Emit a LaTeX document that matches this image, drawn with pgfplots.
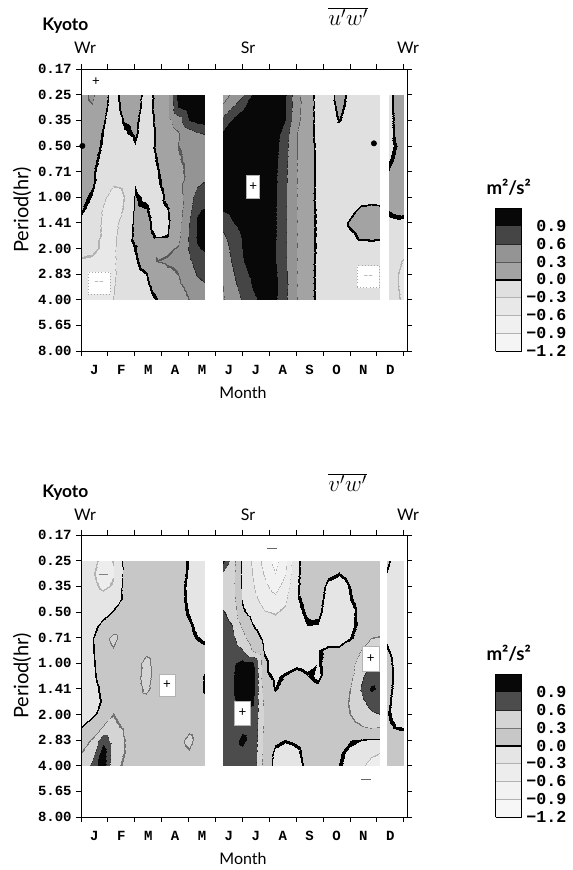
\documentclass[border=0pt]{standalone}
\usepackage{fontspec}
\setmainfont{Lato}
\newfontfamily\monob{Liberation Mono}
\usepackage{pgfplots}
\usepackage{pgfplotstable}
\pgfplotsset{compat=1.18}

% ---------------- u'w' panel ----------------
\pgfplotstableread[row sep=\\]{
x y v\\
0 1 0.20\\ 0.4 1 0.35\\ 0.8 1 0.10\\ 1.2 1 -0.10\\ 1.6 1 0.10\\ 2.0 1 0.15\\ 2.4 1 -0.10\\ 2.8 1 0.05\\ 3.2 1 0.20\\ 3.6 1 1.00\\ 4.0 1 1.05\\ 4.3 1 1.05\\ 4.6 1 1.00\\
0 1.5 0.20\\ 0.4 1.5 0.28\\ 0.8 1.5 0.08\\ 1.2 1.5 -0.12\\ 1.6 1.5 0.08\\ 2.0 1.5 0.10\\ 2.4 1.5 -0.10\\ 2.8 1.5 0.06\\ 3.2 1.5 0.20\\ 3.6 1.5 0.90\\ 4.0 1.5 1.05\\ 4.3 1.5 1.05\\ 4.6 1.5 1.05\\
0 2 0.18\\ 0.4 2 0.18\\ 0.8 2 0.03\\ 1.2 2 -0.15\\ 1.6 2 0.02\\ 2.0 2 0.05\\ 2.4 2 -0.12\\ 2.8 2 0.04\\ 3.2 2 0.20\\ 3.6 2 0.45\\ 4.0 2 0.92\\ 4.3 2 1.00\\ 4.6 2 1.05\\
0 2.5 0.16\\ 0.4 2.5 0.12\\ 0.8 2.5 -0.01\\ 1.2 2.5 -0.16\\ 1.6 2.5 -0.03\\ 2.0 2.5 0.03\\ 2.4 2.5 -0.12\\ 2.8 2.5 0.02\\ 3.2 2.5 0.15\\ 3.6 2.5 0.28\\ 4.0 2.5 0.45\\ 4.3 2.5 0.58\\ 4.6 2.5 0.62\\
0 3 0.20\\ 0.4 3 0.10\\ 0.8 3 -0.03\\ 1.2 3 -0.16\\ 1.6 3 -0.12\\ 2.0 3 -0.02\\ 2.4 3 -0.12\\ 2.8 3 0.03\\ 3.2 3 0.14\\ 3.6 3 0.30\\ 4.0 3 0.35\\ 4.3 3 0.38\\ 4.6 3 0.40\\
0 3.5 0.12\\ 0.4 3.5 0.06\\ 0.8 3.5 -0.06\\ 1.2 3.5 -0.16\\ 1.6 3.5 -0.18\\ 2.0 3.5 -0.15\\ 2.4 3.5 -0.15\\ 2.8 3.5 0.00\\ 3.2 3.5 0.12\\ 3.6 3.5 0.28\\ 4.0 3.5 0.35\\ 4.3 3.5 0.35\\ 4.6 3.5 0.35\\
0 4 0.10\\ 0.4 4 0.03\\ 0.8 4 -0.10\\ 1.2 4 -0.20\\ 1.6 4 -0.20\\ 2.0 4 -0.12\\ 2.4 4 -0.15\\ 2.8 4 -0.03\\ 3.2 4 0.10\\ 3.6 4 0.25\\ 4.0 4 0.35\\ 4.3 4 0.40\\ 4.6 4 0.45\\
0 4.5 0.08\\ 0.4 4.5 0.03\\ 0.8 4.5 -0.14\\ 1.2 4.5 -0.28\\ 1.6 4.5 -0.26\\ 2.0 4.5 -0.02\\ 2.4 4.5 -0.12\\ 2.8 4.5 -0.05\\ 3.2 4.5 0.08\\ 3.6 4.5 0.22\\ 4.0 4.5 0.45\\ 4.3 4.5 0.55\\ 4.6 4.5 0.65\\
0 5 0.05\\ 0.4 5 -0.02\\ 0.8 5 -0.25\\ 1.2 5 -0.40\\ 1.6 5 -0.30\\ 2.0 5 0.02\\ 2.4 5 -0.04\\ 2.8 5 -0.10\\ 3.2 5 0.05\\ 3.6 5 0.20\\ 4.0 5 0.45\\ 4.3 5 0.75\\ 4.6 5 0.80\\
0 5.5 0.02\\ 0.4 5.5 -0.08\\ 0.8 5.5 -0.32\\ 1.2 5.5 -0.40\\ 1.6 5.5 -0.28\\ 2.0 5.5 0.04\\ 2.4 5.5 0.02\\ 2.8 5.5 -0.10\\ 3.2 5.5 -0.02\\ 3.6 5.5 0.18\\ 4.0 5.5 0.50\\ 4.3 5.5 0.88\\ 4.6 5.5 0.92\\
0 6 -0.05\\ 0.4 6 -0.15\\ 0.8 6 -0.33\\ 1.2 6 -0.38\\ 1.6 6 -0.20\\ 2.0 6 0.05\\ 2.4 6 0.06\\ 2.8 6 -0.08\\ 3.2 6 -0.04\\ 3.6 6 0.20\\ 4.0 6 0.60\\ 4.3 6 0.92\\ 4.6 6 0.98\\
0 6.5 -0.12\\ 0.4 6.5 -0.20\\ 0.8 6.5 -0.33\\ 1.2 6.5 -0.36\\ 1.6 6.5 -0.15\\ 2.0 6.5 0.05\\ 2.4 6.5 0.08\\ 2.8 6.5 -0.02\\ 3.2 6.5 -0.01\\ 3.6 6.5 0.22\\ 4.0 6.5 0.62\\ 4.3 6.5 0.93\\ 4.6 6.5 1.00\\
0 7 -0.22\\ 0.4 7 -0.26\\ 0.8 7 -0.33\\ 1.2 7 -0.35\\ 1.6 7 -0.12\\ 2.0 7 0.00\\ 2.4 7 0.15\\ 2.8 7 0.28\\ 3.2 7 0.25\\ 3.6 7 0.32\\ 4.0 7 0.62\\ 4.3 7 0.88\\ 4.6 7 0.95\\
0 7.5 -0.32\\ 0.4 7.5 -0.33\\ 0.8 7.5 -0.36\\ 1.2 7.5 -0.35\\ 1.6 7.5 -0.12\\ 2.0 7.5 -0.03\\ 2.4 7.5 0.10\\ 2.8 7.5 0.30\\ 3.2 7.5 0.33\\ 3.6 7.5 0.35\\ 4.0 7.5 0.55\\ 4.3 7.5 0.72\\ 4.6 7.5 0.80\\
0 8 -0.36\\ 0.4 8 -0.40\\ 0.8 8 -0.40\\ 1.2 8 -0.35\\ 1.6 8 -0.15\\ 2.0 8 -0.08\\ 2.4 8 -0.01\\ 2.8 8 0.15\\ 3.2 8 0.25\\ 3.6 8 0.30\\ 4.0 8 0.45\\ 4.3 8 0.62\\ 4.6 8 0.70\\
0 8.5 -0.36\\ 0.4 8.5 -0.42\\ 0.8 8.5 -0.42\\ 1.2 8.5 -0.32\\ 1.6 8.5 -0.15\\ 2.0 8.5 -0.10\\ 2.4 8.5 -0.05\\ 2.8 8.5 0.06\\ 3.2 8.5 0.20\\ 3.6 8.5 0.25\\ 4.0 8.5 0.35\\ 4.3 8.5 0.48\\ 4.6 8.5 0.55\\
0 9 -0.34\\ 0.4 9 -0.40\\ 0.8 9 -0.40\\ 1.2 9 -0.30\\ 1.6 9 -0.15\\ 2.0 9 -0.12\\ 2.4 9 -0.08\\ 2.8 9 -0.01\\ 3.2 9 0.15\\ 3.6 9 0.20\\ 4.0 9 0.30\\ 4.3 9 0.35\\ 4.6 9 0.40\\
}\TL

\pgfplotstableread[row sep=\\]{
x y v\\
5.27 1 0.20\\ 5.6 1 0.35\\ 6.0 1 0.55\\ 6.4 1 0.95\\ 6.8 1 1.10\\ 7.2 1 1.10\\ 7.6 1 0.95\\ 8.0 1 0.40\\ 8.4 1 0.15\\ 8.8 1 -0.10\\ 9.2 1 -0.12\\ 9.6 1 0.10\\ 10.0 1 -0.06\\ 10.4 1 -0.15\\ 10.8 1 -0.15\\ 11.1 1 -0.15\\
5.27 1.5 0.35\\ 5.6 1.5 0.60\\ 6.0 1.5 0.85\\ 6.4 1.5 1.05\\ 6.8 1.5 1.10\\ 7.2 1.5 1.10\\ 7.6 1.5 0.93\\ 8.0 1.5 0.40\\ 8.4 1.5 0.15\\ 8.8 1.5 -0.10\\ 9.2 1.5 -0.12\\ 9.6 1.5 0.06\\ 10.0 1.5 -0.08\\ 10.4 1.5 -0.15\\ 10.8 1.5 -0.15\\ 11.1 1.5 -0.15\\
5.27 2 0.70\\ 5.6 2 0.92\\ 6.0 2 1.05\\ 6.4 2 1.10\\ 6.8 2 1.10\\ 7.2 2 1.10\\ 7.6 2 0.90\\ 8.0 2 0.38\\ 8.4 2 0.14\\ 8.8 2 -0.09\\ 9.2 2 -0.14\\ 9.6 2 0.01\\ 10.0 2 -0.12\\ 10.4 2 -0.15\\ 10.8 2 -0.15\\ 11.1 2 -0.15\\
5.27 2.5 0.95\\ 5.6 2.5 1.05\\ 6.0 2.5 1.10\\ 6.4 2.5 1.10\\ 6.8 2.5 1.10\\ 7.2 2.5 1.05\\ 7.6 2.5 0.75\\ 8.0 2.5 0.32\\ 8.4 2.5 0.12\\ 8.8 2.5 -0.08\\ 9.2 2.5 -0.15\\ 9.6 2.5 -0.15\\ 10.0 2.5 -0.15\\ 10.4 2.5 -0.15\\ 10.8 2.5 -0.15\\ 11.1 2.5 -0.15\\
5.27 3 1.00\\ 5.6 3 1.10\\ 6.0 3 1.10\\ 6.4 3 1.10\\ 6.8 3 1.10\\ 7.2 3 1.00\\ 7.6 3 0.70\\ 8.0 3 0.32\\ 8.4 3 0.12\\ 8.8 3 -0.06\\ 9.2 3 -0.15\\ 9.6 3 -0.15\\ 10.0 3 -0.15\\ 10.4 3 -0.15\\ 10.8 3 -0.12\\ 11.1 3 -0.15\\
5.27 3.5 1.00\\ 5.6 3.5 1.10\\ 6.0 3.5 1.10\\ 6.4 3.5 1.10\\ 6.8 3.5 1.10\\ 7.2 3.5 0.98\\ 7.6 3.5 0.68\\ 8.0 3.5 0.31\\ 8.4 3.5 0.12\\ 8.8 3.5 -0.05\\ 9.2 3.5 -0.15\\ 9.6 3.5 -0.15\\ 10.0 3.5 -0.15\\ 10.4 3.5 -0.15\\ 10.8 3.5 -0.15\\ 11.1 3.5 -0.15\\
5.27 4 1.00\\ 5.6 4 1.10\\ 6.0 4 1.10\\ 6.4 4 1.10\\ 6.8 4 1.10\\ 7.2 4 0.96\\ 7.6 4 0.66\\ 8.0 4 0.31\\ 8.4 4 0.11\\ 8.8 4 -0.05\\ 9.2 4 -0.15\\ 9.6 4 -0.15\\ 10.0 4 -0.15\\ 10.4 4 -0.15\\ 10.8 4 -0.15\\ 11.1 4 -0.15\\
5.27 4.5 1.00\\ 5.6 4.5 1.10\\ 6.0 4.5 1.10\\ 6.4 4.5 1.10\\ 6.8 4.5 1.05\\ 7.2 4.5 0.95\\ 7.6 4.5 0.65\\ 8.0 4.5 0.31\\ 8.4 4.5 0.11\\ 8.8 4.5 -0.05\\ 9.2 4.5 -0.15\\ 9.6 4.5 -0.15\\ 10.0 4.5 -0.15\\ 10.4 4.5 -0.15\\ 10.8 4.5 -0.15\\ 11.1 4.5 -0.15\\
5.27 5 0.98\\ 5.6 5 1.05\\ 6.0 5 1.10\\ 6.4 5 1.10\\ 6.8 5 1.05\\ 7.2 5 0.94\\ 7.6 5 0.64\\ 8.0 5 0.31\\ 8.4 5 0.10\\ 8.8 5 -0.05\\ 9.2 5 -0.15\\ 9.6 5 -0.15\\ 10.0 5 -0.14\\ 10.4 5 -0.12\\ 10.8 5 -0.12\\ 11.1 5 -0.14\\
5.27 5.5 0.92\\ 5.6 5.5 1.00\\ 6.0 5.5 1.10\\ 6.4 5.5 1.10\\ 6.8 5.5 1.05\\ 7.2 5.5 0.93\\ 7.6 5.5 0.64\\ 8.0 5.5 0.31\\ 8.4 5.5 0.10\\ 8.8 5.5 -0.04\\ 9.2 5.5 -0.15\\ 9.6 5.5 -0.15\\ 10.0 5.5 -0.08\\ 10.4 5.5 0.06\\ 10.8 5.5 0.10\\ 11.1 5.5 0.08\\
5.27 6 0.70\\ 5.6 6 0.88\\ 6.0 6 1.00\\ 6.4 6 1.10\\ 6.8 6 1.05\\ 7.2 6 0.93\\ 7.6 6 0.64\\ 8.0 6 0.31\\ 8.4 6 0.10\\ 8.8 6 -0.04\\ 9.2 6 -0.15\\ 9.6 6 -0.12\\ 10.0 6 0.04\\ 10.4 6 0.12\\ 10.8 6 0.12\\ 11.1 6 0.10\\
5.27 6.5 0.55\\ 5.6 6.5 0.75\\ 6.0 6.5 0.92\\ 6.4 6.5 1.05\\ 6.8 6.5 1.05\\ 7.2 6.5 0.93\\ 7.6 6.5 0.64\\ 8.0 6.5 0.31\\ 8.4 6.5 0.10\\ 8.8 6.5 -0.04\\ 9.2 6.5 -0.15\\ 9.6 6.5 -0.15\\ 10.0 6.5 -0.06\\ 10.4 6.5 0.05\\ 10.8 6.5 0.06\\ 11.1 6.5 0.04\\
5.27 7 0.45\\ 5.6 7 0.68\\ 6.0 7 0.90\\ 6.4 7 1.05\\ 6.8 7 1.05\\ 7.2 7 0.92\\ 7.6 7 0.64\\ 8.0 7 0.31\\ 8.4 7 0.10\\ 8.8 7 -0.04\\ 9.2 7 -0.15\\ 9.6 7 -0.15\\ 10.0 7 -0.15\\ 10.4 7 -0.12\\ 10.8 7 -0.10\\ 11.1 7 -0.10\\
5.27 7.5 0.40\\ 5.6 7.5 0.62\\ 6.0 7.5 0.88\\ 6.4 7.5 1.05\\ 6.8 7.5 1.05\\ 7.2 7.5 0.92\\ 7.6 7.5 0.64\\ 8.0 7.5 0.31\\ 8.4 7.5 0.10\\ 8.8 7.5 -0.05\\ 9.2 7.5 -0.15\\ 9.6 7.5 -0.15\\ 10.0 7.5 -0.15\\ 10.4 7.5 -0.15\\ 10.8 7.5 -0.18\\ 11.1 7.5 -0.15\\
5.27 8 0.35\\ 5.6 8 0.55\\ 6.0 8 0.80\\ 6.4 8 0.98\\ 6.8 8 1.05\\ 7.2 8 0.95\\ 7.6 8 0.66\\ 8.0 8 0.31\\ 8.4 8 0.10\\ 8.8 8 -0.05\\ 9.2 8 -0.15\\ 9.6 8 -0.15\\ 10.0 8 -0.15\\ 10.4 8 -0.22\\ 10.8 8 -0.30\\ 11.1 8 -0.22\\
5.27 8.5 0.30\\ 5.6 8.5 0.48\\ 6.0 8.5 0.70\\ 6.4 8.5 0.92\\ 6.8 8.5 1.05\\ 7.2 8.5 0.98\\ 7.6 8.5 0.68\\ 8.0 8.5 0.31\\ 8.4 8.5 0.10\\ 8.8 8.5 -0.05\\ 9.2 8.5 -0.15\\ 9.6 8.5 -0.15\\ 10.0 8.5 -0.15\\ 10.4 8.5 -0.22\\ 10.8 8.5 -0.30\\ 11.1 8.5 -0.22\\
5.27 9 0.28\\ 5.6 9 0.42\\ 6.0 9 0.62\\ 6.4 9 0.85\\ 6.8 9 1.00\\ 7.2 9 0.95\\ 7.6 9 0.66\\ 8.0 9 0.31\\ 8.4 9 0.10\\ 8.8 9 -0.05\\ 9.2 9 -0.15\\ 9.6 9 -0.15\\ 10.0 9 -0.15\\ 10.4 9 -0.15\\ 10.8 9 -0.18\\ 11.1 9 -0.15\\
}\TM

\pgfplotstableread[row sep=\\]{
x y v\\
11.45 1 -0.05\\ 11.72 1 0.05\\ 12.0 1 0.12\\
11.45 1.5 -0.05\\ 11.72 1.5 0.05\\ 12.0 1.5 0.12\\
11.45 2 -0.06\\ 11.72 2 0.04\\ 12.0 2 0.12\\
11.45 2.5 -0.06\\ 11.72 2.5 0.03\\ 12.0 2.5 0.10\\
11.45 3 -0.05\\ 11.72 3 0.01\\ 12.0 3 0.05\\
11.45 3.5 -0.02\\ 11.72 3.5 0.03\\ 12.0 3.5 0.08\\
11.45 4 0.02\\ 11.72 4 0.06\\ 12.0 4 0.10\\
11.45 4.5 0.05\\ 11.72 4.5 0.08\\ 12.0 4.5 0.10\\
11.45 5 0.05\\ 11.72 5 0.08\\ 12.0 5 0.10\\
11.45 5.5 0.02\\ 11.72 5.5 0.04\\ 12.0 5.5 0.05\\
11.45 6 -0.05\\ 11.72 6 -0.04\\ 12.0 6 -0.05\\
11.45 6.5 -0.10\\ 11.72 6.5 -0.10\\ 12.0 6.5 -0.12\\
11.45 7 -0.15\\ 11.72 7 -0.18\\ 12.0 7 -0.22\\
11.45 7.5 -0.18\\ 11.72 7.5 -0.25\\ 12.0 7.5 -0.32\\
11.45 8 -0.18\\ 11.72 8 -0.28\\ 12.0 8 -0.36\\
11.45 8.5 -0.18\\ 11.72 8.5 -0.28\\ 12.0 8.5 -0.36\\
11.45 9 -0.18\\ 11.72 9 -0.26\\ 12.0 9 -0.34\\
}\TR

% ---------------- v'w' panel ----------------
\pgfplotstableread[row sep=\\]{
x y v\\
0 1 -0.15\\ 0.4 1 -0.25\\ 0.8 1 -0.35\\ 1.2 1 -0.30\\ 1.6 1 0.05\\ 2.0 1 0.15\\ 2.4 1 0.20\\ 2.8 1 0.18\\ 3.2 1 0.15\\ 3.6 1 0.10\\ 4.0 1 -0.02\\ 4.3 1 -0.12\\ 4.6 1 -0.12\\
0 1.5 -0.15\\ 0.4 1.5 -0.28\\ 0.8 1.5 -0.38\\ 1.2 1.5 -0.32\\ 1.6 1.5 0.05\\ 2.0 1.5 0.15\\ 2.4 1.5 0.20\\ 2.8 1.5 0.18\\ 3.2 1.5 0.15\\ 3.6 1.5 0.10\\ 4.0 1.5 -0.03\\ 4.3 1.5 -0.12\\ 4.6 1.5 -0.12\\
0 2 -0.15\\ 0.4 2 -0.25\\ 0.8 2 -0.34\\ 1.2 2 -0.28\\ 1.6 2 0.06\\ 2.0 2 0.15\\ 2.4 2 0.18\\ 2.8 2 0.18\\ 3.2 2 0.15\\ 3.6 2 0.08\\ 4.0 2 -0.05\\ 4.3 2 -0.12\\ 4.6 2 -0.12\\
0 2.5 -0.15\\ 0.4 2.5 -0.18\\ 0.8 2.5 -0.22\\ 1.2 2.5 -0.15\\ 1.6 2.5 0.04\\ 2.0 2.5 0.15\\ 2.4 2.5 0.18\\ 2.8 2.5 0.18\\ 3.2 2.5 0.15\\ 3.6 2.5 0.08\\ 4.0 2.5 -0.04\\ 4.3 2.5 -0.12\\ 4.6 2.5 -0.12\\
0 3 -0.18\\ 0.4 3 -0.15\\ 0.8 3 -0.12\\ 1.2 3 0.02\\ 1.6 3 0.10\\ 2.0 3 0.15\\ 2.4 3 0.18\\ 2.8 3 0.18\\ 3.2 3 0.15\\ 3.6 3 0.08\\ 4.0 3 -0.02\\ 4.3 3 -0.10\\ 4.6 3 -0.12\\
0 3.5 -0.28\\ 0.4 3.5 -0.10\\ 0.8 3.5 0.08\\ 1.2 3.5 0.15\\ 1.6 3.5 0.18\\ 2.0 3.5 0.18\\ 2.4 3.5 0.18\\ 2.8 3.5 0.18\\ 3.2 3.5 0.15\\ 3.6 3.5 0.10\\ 4.0 3.5 0.03\\ 4.3 3.5 -0.05\\ 4.6 3.5 -0.10\\
0 4 -0.30\\ 0.4 4 -0.02\\ 0.8 4 0.20\\ 1.2 4 0.36\\ 1.6 4 0.20\\ 2.0 4 0.18\\ 2.4 4 0.18\\ 2.8 4 0.18\\ 3.2 4 0.16\\ 3.6 4 0.12\\ 4.0 4 0.06\\ 4.3 4 0.00\\ 4.6 4 -0.04\\
0 4.5 -0.30\\ 0.4 4.5 -0.03\\ 0.8 4.5 0.18\\ 1.2 4.5 0.28\\ 1.6 4.5 0.20\\ 2.0 4.5 0.22\\ 2.4 4.5 0.25\\ 2.8 4.5 0.20\\ 3.2 4.5 0.16\\ 3.6 4.5 0.12\\ 4.0 4.5 0.10\\ 4.3 4.5 0.08\\ 4.6 4.5 0.05\\
0 5 -0.30\\ 0.4 5 -0.05\\ 0.8 5 0.15\\ 1.2 5 0.20\\ 1.6 5 0.18\\ 2.0 5 0.22\\ 2.4 5 0.36\\ 2.8 5 0.22\\ 3.2 5 0.18\\ 3.6 5 0.14\\ 4.0 5 0.12\\ 4.3 5 0.10\\ 4.6 5 0.08\\
0 5.5 -0.30\\ 0.4 5.5 -0.06\\ 0.8 5.5 0.12\\ 1.2 5.5 0.18\\ 1.6 5.5 0.18\\ 2.0 5.5 0.22\\ 2.4 5.5 0.38\\ 2.8 5.5 0.22\\ 3.2 5.5 0.18\\ 3.6 5.5 0.14\\ 4.0 5.5 0.12\\ 4.3 5.5 0.10\\ 4.6 5.5 -0.02\\
0 6 -0.30\\ 0.4 6 -0.10\\ 0.8 6 0.06\\ 1.2 6 0.18\\ 1.6 6 0.18\\ 2.0 6 0.22\\ 2.4 6 0.34\\ 2.8 6 0.22\\ 3.2 6 0.18\\ 3.6 6 0.14\\ 4.0 6 0.12\\ 4.3 6 0.10\\ 4.6 6 -0.02\\
0 6.5 -0.30\\ 0.4 6.5 -0.12\\ 0.8 6.5 0.04\\ 1.2 6.5 0.22\\ 1.6 6.5 0.20\\ 2.0 6.5 0.20\\ 2.4 6.5 0.22\\ 2.8 6.5 0.20\\ 3.2 6.5 0.18\\ 3.6 6.5 0.14\\ 4.0 6.5 0.12\\ 4.3 6.5 0.10\\ 4.6 6.5 0.06\\
0 7 -0.18\\ 0.4 7 -0.06\\ 0.8 7 0.12\\ 1.2 7 0.30\\ 1.6 7 0.24\\ 2.0 7 0.20\\ 2.4 7 0.20\\ 2.8 7 0.20\\ 3.2 7 0.18\\ 3.6 7 0.16\\ 4.0 7 0.15\\ 4.3 7 0.14\\ 4.6 7 0.12\\
0 7.5 0.00\\ 0.4 7.5 0.15\\ 0.8 7.5 0.32\\ 1.2 7.5 0.34\\ 1.6 7.5 0.28\\ 2.0 7.5 0.22\\ 2.4 7.5 0.20\\ 2.8 7.5 0.20\\ 3.2 7.5 0.20\\ 3.6 7.5 0.22\\ 4.0 7.5 0.25\\ 4.3 7.5 0.22\\ 4.6 7.5 0.18\\
0 8 0.20\\ 0.4 8 0.32\\ 0.8 8 0.80\\ 1.2 8 0.45\\ 1.6 8 0.30\\ 2.0 8 0.22\\ 2.4 8 0.20\\ 2.8 8 0.20\\ 3.2 8 0.20\\ 3.6 8 0.24\\ 4.0 8 0.35\\ 4.3 8 0.25\\ 4.6 8 0.18\\
0 8.5 0.30\\ 0.4 8.5 0.45\\ 0.8 8.5 1.10\\ 1.2 8.5 0.42\\ 1.6 8.5 0.30\\ 2.0 8.5 0.22\\ 2.4 8.5 0.20\\ 2.8 8.5 0.20\\ 3.2 8.5 0.20\\ 3.6 8.5 0.22\\ 4.0 8.5 0.28\\ 4.3 8.5 0.22\\ 4.6 8.5 0.18\\
0 9 0.32\\ 0.4 9 0.70\\ 0.8 9 1.10\\ 1.2 9 0.35\\ 1.6 9 0.28\\ 2.0 9 0.22\\ 2.4 9 0.20\\ 2.8 9 0.20\\ 3.2 9 0.20\\ 3.6 9 0.20\\ 4.0 9 0.20\\ 4.3 9 0.18\\ 4.6 9 0.16\\
}\BL

\pgfplotstableread[row sep=\\]{
x y v\\
5.27 1 1.00\\ 5.6 1 0.45\\ 6.0 1 -0.05\\ 6.4 1 -0.35\\ 6.8 1 -0.70\\ 7.2 1 -1.00\\ 7.6 1 -0.70\\ 8.0 1 -0.05\\ 8.4 1 0.12\\ 8.8 1 0.15\\ 9.2 1 0.10\\ 9.6 1 0.06\\ 10.0 1 0.08\\ 10.4 1 0.12\\ 10.8 1 0.15\\ 11.1 1 0.15\\
5.27 1.5 0.55\\ 5.6 1.5 0.42\\ 6.0 1.5 -0.05\\ 6.4 1.5 -0.32\\ 6.8 1.5 -0.62\\ 7.2 1.5 -0.90\\ 7.6 1.5 -0.62\\ 8.0 1.5 -0.05\\ 8.4 1.5 0.12\\ 8.8 1.5 0.15\\ 9.2 1.5 0.05\\ 9.6 1.5 0.01\\ 10.0 1.5 0.08\\ 10.4 1.5 0.12\\ 10.8 1.5 0.15\\ 11.1 1.5 0.15\\
5.27 2 0.40\\ 5.6 2 0.40\\ 6.0 2 -0.03\\ 6.4 2 -0.28\\ 6.8 2 -0.52\\ 7.2 2 -0.72\\ 7.6 2 -0.48\\ 8.0 2 -0.04\\ 8.4 2 0.12\\ 8.8 2 0.12\\ 9.2 2 -0.05\\ 9.6 2 -0.10\\ 10.0 2 0.01\\ 10.4 2 0.10\\ 10.8 2 0.15\\ 11.1 2 0.15\\
5.27 2.5 0.50\\ 5.6 2.5 0.42\\ 6.0 2.5 -0.02\\ 6.4 2.5 -0.22\\ 6.8 2.5 -0.40\\ 7.2 2.5 -0.52\\ 7.6 2.5 -0.35\\ 8.0 2.5 -0.03\\ 8.4 2.5 0.06\\ 8.8 2.5 0.08\\ 9.2 2.5 -0.08\\ 9.6 2.5 -0.15\\ 10.0 2.5 -0.01\\ 10.4 2.5 0.08\\ 10.8 2.5 0.15\\ 11.1 2.5 0.15\\
5.27 3 0.62\\ 5.6 3 0.50\\ 6.0 3 0.05\\ 6.4 3 -0.12\\ 6.8 3 -0.28\\ 7.2 3 -0.32\\ 7.6 3 -0.25\\ 8.0 3 -0.06\\ 8.4 3 0.03\\ 8.8 3 0.05\\ 9.2 3 -0.10\\ 9.6 3 -0.15\\ 10.0 3 -0.06\\ 10.4 3 0.06\\ 10.8 3 0.15\\ 11.1 3 0.15\\
5.27 3.5 0.70\\ 5.6 3.5 0.60\\ 6.0 3.5 0.25\\ 6.4 3.5 0.00\\ 6.8 3.5 -0.15\\ 7.2 3.5 -0.22\\ 7.6 3.5 -0.20\\ 8.0 3.5 -0.10\\ 8.4 3.5 -0.01\\ 8.8 3.5 -0.02\\ 9.2 3.5 -0.12\\ 9.6 3.5 -0.15\\ 10.0 3.5 -0.05\\ 10.4 3.5 0.05\\ 10.8 3.5 0.15\\ 11.1 3.5 0.18\\
5.27 4 0.75\\ 5.6 4 0.68\\ 6.0 4 0.40\\ 6.4 4 0.12\\ 6.8 4 -0.05\\ 7.2 4 -0.18\\ 7.6 4 -0.20\\ 8.0 4 -0.18\\ 8.4 4 -0.12\\ 8.8 4 -0.10\\ 9.2 4 -0.12\\ 9.6 4 -0.12\\ 10.0 4 -0.01\\ 10.4 4 0.08\\ 10.8 4 0.30\\ 11.1 4 0.32\\
5.27 4.5 0.80\\ 5.6 4.5 0.78\\ 6.0 4.5 0.62\\ 6.4 4.5 0.25\\ 6.8 4.5 -0.02\\ 7.2 4.5 -0.15\\ 7.6 4.5 -0.18\\ 8.0 4.5 -0.18\\ 8.4 4.5 -0.12\\ 8.8 4.5 -0.02\\ 9.2 4.5 0.05\\ 9.6 4.5 0.06\\ 10.0 4.5 0.10\\ 10.4 4.5 0.30\\ 10.8 4.5 0.40\\ 11.1 4.5 0.42\\
5.27 5 0.82\\ 5.6 5 0.85\\ 6.0 5 1.00\\ 6.4 5 0.95\\ 6.8 5 0.05\\ 7.2 5 -0.12\\ 7.6 5 -0.10\\ 8.0 5 -0.05\\ 8.4 5 -0.08\\ 8.8 5 -0.02\\ 9.2 5 0.08\\ 9.6 5 0.12\\ 10.0 5 0.18\\ 10.4 5 0.45\\ 10.8 5 0.60\\ 11.1 5 0.62\\
5.27 5.5 0.82\\ 5.6 5.5 0.88\\ 6.0 5.5 1.05\\ 6.4 5.5 1.05\\ 6.8 5.5 0.06\\ 7.2 5.5 -0.04\\ 7.6 5.5 0.02\\ 8.0 5.5 0.08\\ 8.4 5.5 0.02\\ 8.8 5.5 -0.04\\ 9.2 5.5 0.10\\ 9.6 5.5 0.15\\ 10.0 5.5 0.22\\ 10.4 5.5 0.55\\ 10.8 5.5 0.75\\ 11.1 5.5 0.80\\
5.27 6 0.82\\ 5.6 6 0.88\\ 6.0 6 1.05\\ 6.4 6 1.05\\ 6.8 6 0.15\\ 7.2 6 -0.01\\ 7.6 6 0.10\\ 8.0 6 0.15\\ 8.4 6 0.08\\ 8.8 6 0.05\\ 9.2 6 0.12\\ 9.6 6 0.18\\ 10.0 6 0.30\\ 10.4 6 0.62\\ 10.8 6 0.95\\ 11.1 6 0.85\\
5.27 6.5 0.82\\ 5.6 6.5 0.85\\ 6.0 6.5 0.95\\ 6.4 6.5 0.92\\ 6.8 6.5 0.25\\ 7.2 6.5 0.12\\ 7.6 6.5 0.15\\ 8.0 6.5 0.18\\ 8.4 6.5 0.15\\ 8.8 6.5 0.12\\ 9.2 6.5 0.15\\ 9.6 6.5 0.20\\ 10.0 6.5 0.32\\ 10.4 6.5 0.50\\ 10.8 6.5 0.72\\ 11.1 6.5 0.80\\
5.27 7 0.80\\ 5.6 7 0.82\\ 6.0 7 0.88\\ 6.4 7 0.85\\ 6.8 7 0.28\\ 7.2 7 0.15\\ 7.6 7 0.15\\ 8.0 7 0.15\\ 8.4 7 0.12\\ 8.8 7 0.12\\ 9.2 7 0.15\\ 9.6 7 0.20\\ 10.0 7 0.30\\ 10.4 7 0.40\\ 10.8 7 0.55\\ 11.1 7 0.60\\
5.27 7.5 0.78\\ 5.6 7.5 0.80\\ 6.0 7.5 0.85\\ 6.4 7.5 0.82\\ 6.8 7.5 0.25\\ 7.2 7.5 0.12\\ 7.6 7.5 0.12\\ 8.0 7.5 0.12\\ 8.4 7.5 0.10\\ 8.8 7.5 0.10\\ 9.2 7.5 0.12\\ 9.6 7.5 0.15\\ 10.0 7.5 0.22\\ 10.4 7.5 0.28\\ 10.8 7.5 0.32\\ 11.1 7.5 0.30\\
5.27 8 0.78\\ 5.6 8 0.80\\ 6.0 8 0.95\\ 6.4 8 0.82\\ 6.8 8 0.22\\ 7.2 8 0.05\\ 7.6 8 0.01\\ 8.0 8 0.04\\ 8.4 8 0.10\\ 8.8 8 0.10\\ 9.2 8 0.10\\ 9.6 8 0.05\\ 10.0 8 0.02\\ 10.4 8 -0.01\\ 10.8 8 -0.02\\ 11.1 8 -0.02\\
5.27 8.5 0.78\\ 5.6 8.5 0.80\\ 6.0 8.5 0.85\\ 6.4 8.5 0.80\\ 6.8 8.5 0.20\\ 7.2 8.5 -0.05\\ 7.6 8.5 -0.10\\ 8.0 8.5 -0.05\\ 8.4 8.5 0.08\\ 8.8 8.5 0.10\\ 9.2 8.5 0.08\\ 9.6 8.5 0.03\\ 10.0 8.5 -0.05\\ 10.4 8.5 -0.15\\ 10.8 8.5 -0.25\\ 11.1 8.5 -0.30\\
5.27 9 0.75\\ 5.6 9 0.78\\ 6.0 9 0.82\\ 6.4 9 0.78\\ 6.8 9 0.18\\ 7.2 9 -0.08\\ 7.6 9 -0.15\\ 8.0 9 -0.08\\ 8.4 9 0.06\\ 8.8 9 0.10\\ 9.2 9 0.06\\ 9.6 9 0.01\\ 10.0 9 -0.08\\ 10.4 9 -0.25\\ 10.8 9 -0.40\\ 11.1 9 -0.50\\
}\BM

\pgfplotstableread[row sep=\\]{
x y v\\
11.36 1 0.05\\ 11.68 1 -0.10\\ 12.0 1 -0.15\\
11.36 1.5 -0.02\\ 11.68 1.5 -0.12\\ 12.0 1.5 -0.15\\
11.36 2 -0.05\\ 11.68 2 -0.12\\ 12.0 2 -0.15\\
11.36 2.5 -0.08\\ 11.68 2.5 -0.12\\ 12.0 2.5 -0.15\\
11.36 3 -0.08\\ 11.68 3 -0.12\\ 12.0 3 -0.15\\
11.36 3.5 -0.08\\ 11.68 3.5 -0.14\\ 12.0 3.5 -0.20\\
11.36 4 -0.05\\ 11.68 4 -0.14\\ 12.0 4 -0.25\\
11.36 4.5 0.02\\ 11.68 4.5 -0.08\\ 12.0 4.5 -0.28\\
11.36 5 0.08\\ 11.68 5 -0.05\\ 12.0 5 -0.28\\
11.36 5.5 0.10\\ 11.68 5.5 -0.04\\ 12.0 5.5 -0.28\\
11.36 6 0.08\\ 11.68 6 -0.05\\ 12.0 6 -0.30\\
11.36 6.5 0.05\\ 11.68 6.5 -0.06\\ 12.0 6.5 -0.28\\
11.36 7 0.02\\ 11.68 7 -0.05\\ 12.0 7 -0.20\\
11.36 7.5 0.05\\ 11.68 7.5 0.00\\ 12.0 7.5 -0.02\\
11.36 8 0.10\\ 11.68 8 0.10\\ 12.0 8 0.15\\
11.36 8.5 0.10\\ 11.68 8.5 0.15\\ 12.0 8.5 0.25\\
11.36 9 0.10\\ 11.68 9 0.15\\ 12.0 9 0.30\\
}\BR

\tikzset{
  pbox/.style={fill=white, draw=gray!60, line width=0.3pt, inner sep=0pt, font=\fontsize{10}{10}\selectfont},
}
\pgfplotsset{
  colormap={topmap}{gray(0pt)=(0.96) gray(29.25pt)=(0.70) gray(30.75pt)=(0.94) gray(59.25pt)=(0.70) gray(60.75pt)=(0.91) gray(89.25pt)=(0.70) gray(90.75pt)=(0.88) gray(118.5pt)=(0) gray(121.5pt)=(0.64) gray(149.25pt)=(0.35) gray(150.75pt)=(0.58) gray(179.25pt)=(0.15) gray(180.75pt)=(0.27) gray(210pt)=(0.03) gray(240pt)=(0.03)},
  colormap={botmap}{gray(0pt)=(0.97) gray(29.25pt)=(0.70) gray(30.75pt)=(0.95) gray(59.25pt)=(0.70) gray(60.75pt)=(0.93) gray(89.25pt)=(0.70) gray(90.75pt)=(0.90) gray(118.5pt)=(0) gray(121.5pt)=(0.78) gray(149.25pt)=(0.45) gray(150.75pt)=(0.83) gray(179.25pt)=(0.15) gray(180.75pt)=(0.30) gray(210pt)=(0.03) gray(240pt)=(0.03)},
  kyoto/.style={
    scale only axis, width=244.5pt, height=211.5pt, anchor=north west,
    xmin=0, xmax=12.12, ymin=0, ymax=11, y dir=reverse,
    xtick={0,1,...,12}, xticklabels={},
    extra x ticks={0.5,1.5,...,11.5},
    extra x tick labels={J,F,M,A,M,J,J,A,S,O,N,D},
    extra x tick style={major tick length=0pt, xticklabel style={yshift=-7pt}},
    ytick={0,1,...,11},
    yticklabels={0.17,0.25,0.35,0.50,0.71,1.00,1.41,2.00,2.83,4.00,5.65,8.00},
    tick align=outside, major tick length=3.5pt,
    tick style={black, line width=0.6pt},
    axis line style={line width=0.6pt},
    tick label style={font=\monob\bfseries\fontsize{10.5}{12}\selectfont},
    point meta min=-1.2, point meta max=1.2,
    colormap access=piecewise constant,
    axis on top,
    colorbar,
    colorbar style={
      at={(parent axis.south east)}, anchor=south west, xshift=58pt,
      width=19.5pt, height=107.25pt,
      ytick={-1.2,-0.9,-0.6,-0.3,0,0.3,0.6,0.9},
      yticklabels={−1.2,−0.9,−0.6,−0.3,0.0,0.3,0.6,0.9},
      major tick length=0pt,
      yticklabel style={font=\monob\bfseries\fontsize{12.5}{13}\selectfont, text width=30pt, align=right},
      title={\textbf{m²/s²}},
      title style={font=\fontsize{14}{15}\selectfont},
    },
  },
  blk/.style={surf, shader=interp, mesh/cols=#1, point meta=\thisrow{v}},
}

\begin{document}
\begin{tikzpicture}
\path[use as bounding box] (0pt,0pt) rectangle (429.75pt,-652.5pt);

% ---------- top panel ----------
\begin{axis}[kyoto, at={(60.75pt,-51.75pt)}, colormap name=topmap]
\addplot[blk=13] table[x=x,y=y] {\TL};
\addplot[blk=16] table[x=x,y=y] {\TM};
\addplot[blk=3] table[x=x,y=y] {\TR};
\addplot[only marks, mark=*, mark size=2pt, black] coordinates {(10.89,2.9) (0.05,3.0)};
\node[font=\fontsize{10}{10}\selectfont] at (axis cs:0.56,0.5) {+};
\node[pbox, minimum width=9.75pt, minimum height=17.25pt] at (axis cs:6.4,4.6) {+};
\node[pbox, draw=gray!70, dotted, minimum width=16.5pt, minimum height=16.5pt, font=\fontsize{6}{6}\selectfont] at (axis cs:0.67,8.35) {\textcolor{gray}{−−}};
\node[pbox, draw=gray!70, dotted, minimum width=16.5pt, minimum height=16.5pt, font=\fontsize{6}{6}\selectfont] at (axis cs:10.68,8.1) {\textcolor{gray}{−−}};
\end{axis}

% ---------- bottom panel ----------
\begin{axis}[kyoto, at={(60.75pt,-401.25pt)}, colormap name=botmap]
\addplot[blk=13] table[x=x,y=y] {\BL};
\addplot[blk=16] table[x=x,y=y] {\BM};
\addplot[blk=3] table[x=x,y=y] {\BR};
\node[pbox, minimum width=12pt, minimum height=16.5pt] at (axis cs:3.2,5.84) {+};
\node[pbox, minimum width=12pt, minimum height=18pt] at (axis cs:6.0,6.94) {+};
\node[pbox, minimum width=12.75pt, minimum height=18.75pt] at (axis cs:10.77,4.83) {+};
\node[inner sep=0pt] at (axis cs:0.83,1.55) {\textcolor{gray}{\rule{7pt}{0.9pt}}};
\node[inner sep=0pt] at (axis cs:7.1,0.53) {\textcolor{gray!80!black}{\rule{7pt}{0.9pt}}};
\node[inner sep=0pt] at (axis cs:10.6,9.55) {\textcolor{gray!80!black}{\rule{7pt}{0.9pt}}};
\end{axis}

% ---------- titles and labels ----------
\foreach \dy in {0pt,349.5pt}{
  \node[anchor=base west, inner sep=0pt, font=\bfseries\fontsize{13}{15}\selectfont] at (31.5pt,-23.25pt-\dy) {Kyoto};
  \node[anchor=base, inner sep=0pt, font=\fontsize{12}{14}\selectfont] at (63.75pt,-40.5pt-\dy) {Wr};
  \node[anchor=base, inner sep=0pt, font=\fontsize{12}{14}\selectfont] at (186pt,-40.5pt-\dy) {Sr};
  \node[anchor=base, inner sep=0pt, font=\fontsize{12}{14}\selectfont] at (306pt,-40.5pt-\dy) {Wr};
  \node[rotate=90, inner sep=0pt, font=\fontsize{15}{17}\selectfont] at (16.5pt,-157.5pt-\dy) {Period(hr)};
  \node[inner sep=0pt, font=\fontsize{12}{14}\selectfont] at (182.25pt,-294.75pt-\dy) {Month};
}
\node[anchor=base west, inner sep=0pt, font=\fontsize{18}{20}\selectfont] at (246pt,-19pt) {$\overline{u'w'}$};
\node[anchor=base west, inner sep=0pt, font=\fontsize{18}{20}\selectfont] at (246pt,-368.5pt) {$\overline{v'w'}$};
\end{tikzpicture}
\end{document}
